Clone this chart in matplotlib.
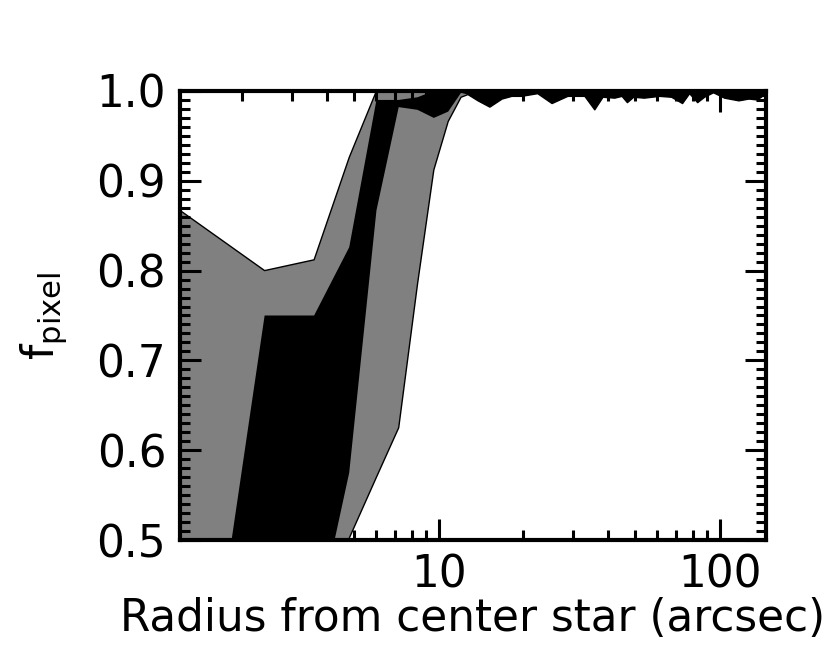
import matplotlib
matplotlib.use('Agg')
import matplotlib.pyplot as plt
from matplotlib.ticker import MultipleLocator, LogLocator, FixedLocator, NullFormatter, FormatStrFormatter

# Radius (arcsec) at the polygon vertices
radius = [1.2, 2.4, 3.6, 4.8, 6.0, 7.2, 8.4, 9.6, 10.8, 12.0,
          12.7, 13.8, 15.2, 16.8, 18.2, 19.7, 22.5, 25.3, 28.8, 33.1,
          35.9, 38.4, 42.3, 44.9, 46.9, 49.4, 53.9, 61.1, 67.4, 73.7,
          78.1, 83.4, 88.3, 95.0, 104.0, 117.0, 127.0, 136.0, 142.0, 146.0]

# Outer (gray) envelope
gray_hi = [0.867, 0.800, 0.812, 0.926, 1.0, 1.0, 1.0, 1.0, 1.0, 1.0,
           1.0, 1.0, 1.0, 1.0, 1.0, 1.0, 1.0, 1.0, 1.0, 1.0,
           1.0, 1.0, 1.0, 1.0, 1.0, 1.0, 1.0, 1.0, 1.0, 1.0,
           1.0, 1.0, 1.0, 1.0, 1.0, 1.0, 1.0, 1.0, 1.0, 1.0]
gray_lo = [0.0, 0.1, 0.3, 0.502, 0.57, 0.625, 0.785, 0.912, 0.966, 0.993,
           0.996, 0.989, 0.982, 0.991, 0.994, 0.994, 0.997, 0.986, 0.994, 0.994,
           0.979, 0.993, 0.992, 0.994, 0.987, 0.993, 0.992, 0.994, 0.993, 0.986,
           0.997, 0.987, 0.993, 0.998, 0.992, 0.989, 0.991, 0.990, 0.994, 0.994]

# Inner (black) envelope
black_hi = [0.11, 0.75, 0.75, 0.826, 0.99, 0.99, 0.993, 1.0, 1.0, 1.0,
            1.0, 1.0, 1.0, 1.0, 1.0, 1.0, 1.0, 1.0, 1.0, 1.0,
            1.0, 1.0, 1.0, 1.0, 1.0, 1.0, 1.0, 1.0, 1.0, 1.0,
            1.0, 1.0, 1.0, 1.0, 1.0, 1.0, 1.0, 1.0, 1.0, 1.0]
black_lo = [0.0, 0.2, 0.395, 0.575, 0.867, 0.982, 0.979, 0.970, 0.977, 0.998,
            0.996, 0.989, 0.982, 0.991, 0.994, 0.994, 0.997, 0.986, 0.994, 0.994,
            0.979, 0.993, 0.992, 0.994, 0.987, 0.993, 0.992, 0.994, 0.993, 0.986,
            0.997, 0.987, 0.993, 0.998, 0.992, 0.989, 0.991, 0.990, 0.994, 0.994]

x_major = [10, 100]
y_major = [0.5, 0.6, 0.7, 0.8, 0.9, 1.0]

fig = plt.figure(figsize=(8.3, 6.64), dpi=100)
ax = fig.add_axes([0.2169, 0.1867, 0.7060, 0.6763])

ax.fill_between(radius, gray_lo, gray_hi, facecolor='#808080', edgecolor='none', lw=0)
ax.plot(radius, gray_hi, color='k', lw=1.0)
ax.plot(radius, gray_lo, color='k', lw=1.0)
ax.fill_between(radius, black_lo, black_hi, facecolor='black', edgecolor='none', lw=0)

ax.set_xscale('log')
ax.set_xlim(1.2, 146)
ax.set_ylim(0.5, 1.0)

ax.xaxis.set_major_locator(FixedLocator(x_major))
ax.xaxis.set_major_formatter(FormatStrFormatter('%d'))
ax.xaxis.set_minor_locator(LogLocator(base=10, subs=[2, 3, 4, 5, 6, 7, 8, 9]))
ax.xaxis.set_minor_formatter(NullFormatter())
ax.yaxis.set_major_locator(FixedLocator(y_major))
ax.yaxis.set_major_formatter(FormatStrFormatter('%.1f'))
ax.yaxis.set_minor_locator(MultipleLocator(0.01))

ax.tick_params(which='both', direction='in', top=True, right=True, width=2.2, labelsize=31.5)
ax.tick_params(which='major', length=15, pad=10)
ax.tick_params(which='minor', length=7.5)
for s in ax.spines.values():
    s.set_linewidth(3)

ax.set_xlabel('Radius from center star (arcsec)', fontsize=31.5, labelpad=0)
ax.set_ylabel(r'f$_\mathregular{pixel}$', fontsize=31.5, labelpad=20)

fig.savefig('out.png', dpi=100)
